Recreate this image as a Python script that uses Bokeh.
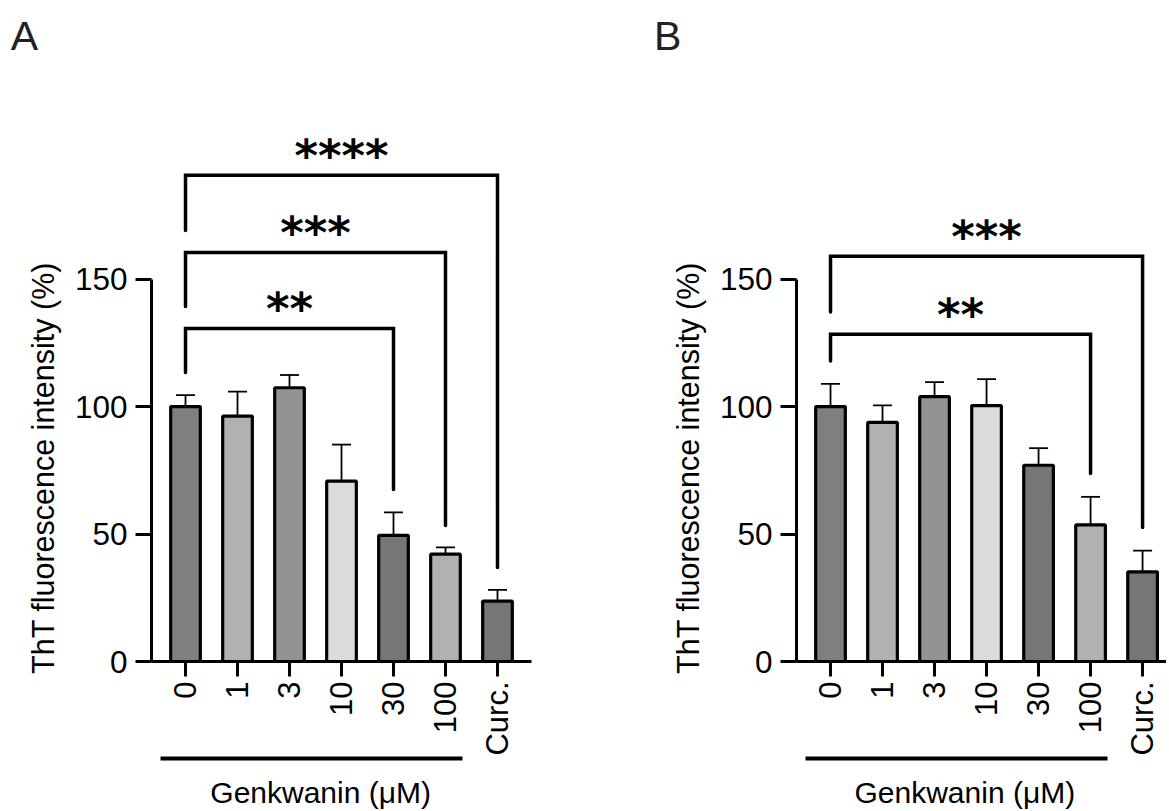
import math
from bokeh.plotting import figure
from bokeh.models import (LinearAxis, FixedTicker, Range1d, Whisker, ColumnDataSource,
                          TeeHead, Div)
from bokeh.layouts import row, column
from bokeh.core.properties import value
from bokeh.embed import file_html
from bokeh.resources import INLINE

# ---------------- data ----------------
categories = ["0", "1", "3", "10", "30", "100", "Curc."]
bar_colors = ["#7f7f7f", "#b1b1b3", "#939393", "#dbdbdb", "#767676", "#b1b1b3", "#767676"]

a_mean = [100.0, 96.3, 107.4, 70.8, 49.5, 42.1, 23.7]
a_sd = [4.5, 9.6, 5.0, 14.3, 9.0, 2.7, 4.4]

b_mean = [100.0, 93.8, 103.9, 100.4, 77.0, 53.6, 35.2]
b_sd = [8.9, 6.7, 5.7, 10.4, 6.7, 11.0, 8.3]

y_ticks = [0, 50, 100, 150]

# brackets: (left bar, right bar, bar height, left end, right end, label)
a_brackets = [
    (0, 4, 130.6, 113.4, 67.5, "**"),
    (0, 5, 160.5, 139.3, 53.4, "***"),
    (0, 6, 190.8, 169.1, 36.9, "****"),
]
b_brackets = [
    (0, 5, 128.4, 117.9, 73.8, "**"),
    (0, 6, 159.0, 137.1, 52.6, "***"),
]

group_label = "Genkwanin (\u03bcM)"
group_span = (-0.48, 5.32)      # underline below the Genkwanin doses
y_label = "ThT fluorescence intensity (%)"

NBSP = "\u00a0"
FONT = "Liberation Sans"
HEADER_H = 60


def make_panel(means, sds, brackets, x_end, frame_w, border_l, border_r, glabel_pad):
    p = figure(frame_width=frame_w, frame_height=548,
               x_range=Range1d(-0.654, x_end), y_range=Range1d(0, 215),
               output_backend="svg", toolbar_location=None,
               min_border_left=border_l, min_border_right=border_r,
               min_border_top=113 - HEADER_H, min_border_bottom=0)
    p.outline_line_color = None
    p.grid.visible = False
    p.background_fill_color = "white"

    xs = list(range(len(categories)))
    src = ColumnDataSource(dict(x=xs, mean=means,
                                upper=[m + s for m, s in zip(means, sds)],
                                color=bar_colors))

    wh = Whisker(source=src, base="x", lower="mean", upper="upper", dimension="height",
                 line_color="black", line_width=1.8, lower_head=None,
                 upper_head=TeeHead(size=19, line_width=1.8, line_color="black"))
    p.add_layout(wh)

    p.vbar(x="x", top="mean", width=0.57, bottom=0, source=src,
           fill_color="color", line_color="black", line_width=3.2)

    # significance brackets
    bx, by = [], []
    tx, ty, tt = [], [], []
    for (i0, i1, h, yl, yr, lab) in brackets:
        bx.append([i0, i0, i1, i1])
        by.append([yl, h, h, yr])
        tx.append((i0 + i1) / 2)
        ty.append(h)
        tt.append(lab)
    p.multi_line(bx, by, line_color="black", line_width=3.5,
                 line_join="miter", line_cap="round")
    p.text(tx, ty, text=tt, text_align="center", text_baseline="alphabetic",
           y_offset=-20,
           text_font=value("DejaVu Sans"), text_font_style="bold",
           text_font_size="45px", text_color="black")

    # y axis (label padded so that it is centred on the 0-150 axis line)
    ya = p.yaxis[0]
    ya.bounds = (0, 150)
    ya.ticker = FixedTicker(ticks=y_ticks)
    ya.axis_label = y_label + NBSP * 19
    ya.axis_label_text_font = FONT
    ya.axis_label_text_font_size = "30.5px"
    ya.axis_label_text_font_style = "normal"
    ya.axis_label_text_color = "black"
    ya.axis_label_standoff = 12

    # x axis (doses)
    xa = p.xaxis[0]
    xa.ticker = FixedTicker(ticks=xs)
    xa.major_label_overrides = {i: c for i, c in enumerate(categories)}
    xa.major_label_orientation = math.pi / 2

    for ax in (xa, ya):
        ax.axis_line_width = 3
        ax.axis_line_color = "black"
        ax.major_tick_line_width = 3
        ax.major_tick_line_color = "black"
        ax.major_tick_in = 0
        ax.minor_tick_line_color = None
        ax.major_label_text_font = FONT
        ax.major_label_text_color = "black"
    ya.major_label_text_font_size = "31.5px"
    xa.major_label_text_font_size = "31px"
    ya.major_label_standoff = 8
    xa.major_label_standoff = 5
    ya.major_tick_out = 16
    xa.major_tick_out = 15

    # underline for the Genkwanin group
    ul = LinearAxis(ticker=FixedTicker(ticks=[]), bounds=group_span,
                    axis_line_width=4, axis_line_color="black",
                    major_tick_line_color=None, minor_tick_line_color=None,
                    major_label_text_font_size="0px")
    p.add_layout(ul, "below")

    # group label
    gl = LinearAxis(ticker=FixedTicker(ticks=[]),
                    axis_line_color=None,
                    major_tick_line_color=None, minor_tick_line_color=None,
                    major_label_text_font_size="0px",
                    axis_label=group_label + NBSP * glabel_pad, axis_label_standoff=17,
                    axis_label_text_font=FONT, axis_label_text_font_size="30px",
                    axis_label_text_font_style="normal", axis_label_text_color="black")
    p.add_layout(gl, "below")
    return p


def header(letter, width, pad_left):
    return Div(text=('<div style="padding:16px 0 0 %.1fpx; font-family:\'Liberation Sans\';'
                     ' font-size:41px; line-height:1; color:#222222;">%s</div>'
                     % (pad_left, letter)),
               width=width, height=HEADER_H, margin=(0, 0, 0, 0))


WA_L, WA_F, WA_R = 151, 380, 20
WB_L, WB_F, WB_R = 245, 370, 0

pA = make_panel(a_mean, a_sd, a_brackets, 6.654, WA_F, WA_L, WA_R, 5)
pB = make_panel(b_mean, b_sd, b_brackets, 6.46, WB_F, WB_L, WB_R, 4)

hA = header("A", WA_L + WA_F + WA_R, 10.7)
hB = header("B", WB_L + WB_F + WB_R, 655 - 1 - (WA_L + WA_F + WA_R))

layout = column(row(hA, hB), row(pA, pB))
open("out.html", "w").write(file_html(layout, INLINE))
